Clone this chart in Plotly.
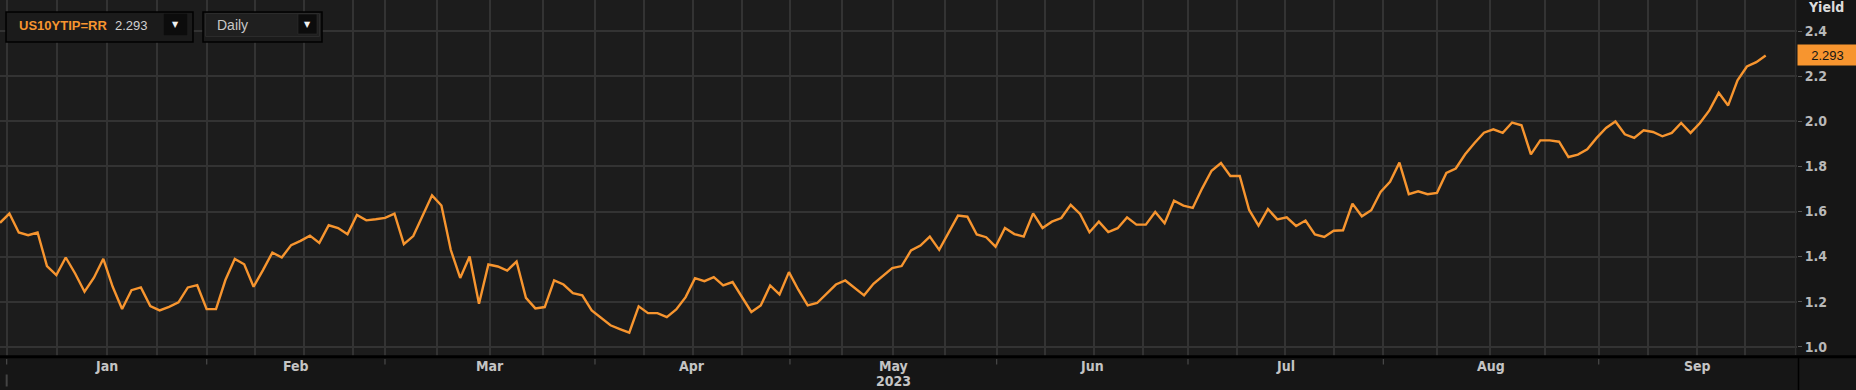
import plotly.graph_objects as go

# ---- data ----
ric = "US10YTIP=RR"
last_value = 2.293
yields = [
    1.550, 1.591, 1.507, 1.495, 1.507, 1.358, 1.318, 1.396, 1.325, 1.244,
    1.306, 1.390, 1.266, 1.167, 1.251, 1.263, 1.180, 1.161, 1.177, 1.197,
    1.263, 1.273, 1.167, 1.167, 1.296, 1.390, 1.366, 1.266, 1.340, 1.418,
    1.396, 1.451, 1.470, 1.493, 1.461, 1.539, 1.527, 1.499, 1.585, 1.561,
    1.566, 1.572, 1.591, 1.455, 1.491, 1.584, 1.672, 1.627, 1.429, 1.305,
    1.400, 1.191, 1.365, 1.356, 1.338, 1.378, 1.217, 1.170, 1.176, 1.294,
    1.276, 1.238, 1.228, 1.161, 1.129, 1.095, 1.078, 1.062, 1.179, 1.149,
    1.149, 1.131, 1.165, 1.220, 1.304, 1.291, 1.309, 1.272, 1.287, 1.220,
    1.154, 1.183, 1.272, 1.232, 1.331, 1.253, 1.183, 1.194, 1.235, 1.276,
    1.294, 1.262, 1.228, 1.279, 1.316, 1.349, 1.358, 1.427, 1.449, 1.489,
    1.430, 1.505, 1.582, 1.577, 1.498, 1.486, 1.444, 1.527, 1.500, 1.489,
    1.592, 1.527, 1.555, 1.571, 1.630, 1.589, 1.508, 1.555, 1.509, 1.526,
    1.574, 1.542, 1.542, 1.598, 1.548, 1.648, 1.626, 1.616, 1.703, 1.781,
    1.815, 1.758, 1.758, 1.607, 1.537, 1.611, 1.565, 1.574, 1.536, 1.560,
    1.498, 1.487, 1.515, 1.517, 1.635, 1.579, 1.606, 1.687, 1.732, 1.817,
    1.677, 1.690, 1.677, 1.683, 1.771, 1.791, 1.854, 1.904, 1.950, 1.965,
    1.949, 1.995, 1.983, 1.854, 1.916, 1.916, 1.910, 1.842, 1.853, 1.876,
    1.927, 1.971, 2.000, 1.943, 1.927, 1.961, 1.953, 1.934, 1.949, 1.993,
    1.949, 1.993, 2.049, 2.127, 2.071, 2.182, 2.244, 2.263, 2.293,
]
months = ["Jan", "Feb", "Mar", "Apr", "May", "Jun", "Jul", "Aug", "Sep"]
year_label = "2023"
y_ticks = [1.0, 1.2, 1.4, 1.6, 1.8, 2.0, 2.2, 2.4]

# ---- axis geometry (in point-index units) ----
month_bounds = [0.71, 22.01, 40.99, 63.35, 84.11, 106.12, 126.49, 147.29, 170.22, 191.3]
grid_x = [0.71, 6.04, 11.36, 16.68, 22.01, 27.15, 32.37, 37.55, 40.99, 46.56,
          52.17, 57.78, 63.35, 68.57, 73.82, 79.00, 84.11, 89.65, 95.08, 100.62,
          106.12, 111.27, 116.48, 121.73, 126.49, 131.71, 136.82, 142.04, 147.29,
          152.97, 158.65, 164.53, 170.22, 175.47, 180.72, 185.80]

W, H = 1856, 390
ML, MR, MT, MB = 0, 59, 0, 34
PW, PH = W - ML - MR, H - MT - MB
XMAX = PW / 9.392
YMIN, YMAX = 0.9587, 2.539

ORANGE = "#f7952f"
NARROW = "Liberation Sans Narrow, Arial Narrow, DejaVu Sans Condensed, sans-serif"
GRID = "#333333"
x = list(range(len(yields)))

fig = go.Figure()
fig.add_trace(go.Scatter(x=x, y=yields, mode="lines",
                         line=dict(color=ORANGE, width=2.4), hoverinfo="skip",
                         showlegend=False))

def px(xp):
    return (xp - ML) / PW

def py(yp):
    return 1 - (yp - MT) / PH

shapes = []
# black separator between plot and date band
shapes.append(dict(type="line", xref="paper", yref="paper", x0=0, x1=W / PW,
                   y0=py(356.7), y1=py(356.7), line=dict(color="#000000", width=3), layer="above"))
# vertical divider right axis
shapes.append(dict(type="line", xref="paper", yref="paper", x0=px(1798.5), x1=px(1798.5),
                   y0=py(357), y1=py(390), line=dict(color="#000000", width=1.5)))
shapes.append(dict(type="line", xref="paper", yref="paper", x0=px(1795.5), x1=px(1795.5),
                   y0=py(355), y1=1, line=dict(color="#2e2e2e", width=1.2), layer="above"))
# month boundary ticks in the date band
for b in month_bounds[:-1]:
    shapes.append(dict(type="line", xref="x", yref="paper", x0=b, x1=b,
                       y0=py(359), y1=py(364.5), line=dict(color="#4a4a4a", width=1.2)))
# year tick
shapes.append(dict(type="line", xref="x", yref="paper", x0=month_bounds[0], x1=month_bounds[0],
                   y0=py(374.5), y1=py(386.5), line=dict(color="#444444", width=2)))

# top-left widgets
def rect(x0, y0, x1, y1, fill, line, lw=1.0):
    shapes.append(dict(type="rect", xref="paper", yref="paper",
                       x0=px(x0), x1=px(x1), y0=py(y1), y1=py(y0),
                       fillcolor=fill, line=dict(color=line, width=lw), layer="above"))

rect(6, 12, 193, 42, "#1b1b1b", "#000000", 1.5)
rect(164, 14, 187, 35, "#0c0c0c", "#0c0c0c", 0.5)
rect(203, 12, 322, 42, "#1b1b1b", "#000000", 1.5)
rect(205.5, 13.5, 319.5, 36.5, "#1f1f1f", "#2b2b2b", 1)
rect(298, 14, 317, 34, "#0c0c0c", "#333333", 0.5)
fig.update_layout(shapes=shapes)

annotations = []
label_font = dict(family=NARROW, size=14, color="#c4c4c4", weight="bold")
for i, m in enumerate(months):
    mid = (month_bounds[i] + month_bounds[i + 1]) / 2
    annotations.append(dict(x=mid, y=py(366), xref="x", yref="paper", text=m,
                            showarrow=False, font=label_font, xanchor="center", yanchor="middle"))
annotations.append(dict(x=(month_bounds[4] + month_bounds[5]) / 2, y=py(381), xref="x", yref="paper",
                        text=year_label, showarrow=False, font=label_font,
                        xanchor="center", yanchor="middle"))
annotations.append(dict(x=px(1806), y=py(7), xref="paper", yref="paper", text="Yield",
                        showarrow=False, xanchor="left", yanchor="middle",
                        font=dict(family=NARROW, size=14, color="#dcdcdc", weight="bold")))
# last-price tag
annotations.append(dict(x=1, xref="paper", y=last_value, yref="y", text=f"{last_value:.3f}",
                        showarrow=False, xanchor="left", yanchor="middle", xshift=0,
                        bgcolor=ORANGE, width=57, height=18, borderpad=1, align="center",
                        font=dict(family="Liberation Sans, Arial, sans-serif", size=13, color="#151515")))
# widget texts
annotations.append(dict(x=px(17), y=py(26), xref="paper", yref="paper",
                        text=f"<b>{ric}</b>", showarrow=False, xanchor="left", yanchor="middle",
                        font=dict(family="Liberation Sans, Arial, sans-serif", size=13, color=ORANGE)))
annotations.append(dict(x=px(113), y=py(26), xref="paper", yref="paper",
                        text=f"{last_value:.3f}", showarrow=False, xanchor="left", yanchor="middle",
                        font=dict(family="Liberation Sans, Arial, sans-serif", size=13, color="#d0d0d0")))
annotations.append(dict(x=px(215), y=py(25), xref="paper", yref="paper",
                        text="Daily", showarrow=False, xanchor="left", yanchor="middle",
                        font=dict(family="Liberation Sans, Arial, sans-serif", size=14, color="#c8c8c8")))
for cx in (175.5, 307.5):
    annotations.append(dict(x=px(cx), y=py(24.5), xref="paper", yref="paper",
                            text="▼", showarrow=False, xanchor="center", yanchor="middle",
                            font=dict(family="DejaVu Sans, sans-serif", size=8, color="#f0f0f0")))
fig.update_layout(annotations=annotations)

fig.update_layout(
    width=W, height=H,
    margin=dict(l=ML, r=MR, t=MT, b=MB, pad=0),
    paper_bgcolor="#161616",
    plot_bgcolor="#1c1c1c",
    showlegend=False,
    xaxis=dict(range=[0, XMAX], tickmode="array", tickvals=grid_x, showticklabels=False,
               ticks="", showgrid=True, gridcolor=GRID, gridwidth=1.5,
               zeroline=False, showline=False, fixedrange=True),
    yaxis=dict(range=[YMIN, YMAX], side="right", tickmode="array", tickvals=y_ticks,
               tickformat=".1f", showgrid=True, gridcolor=GRID, gridwidth=1.5,
               ticks="outside", ticklen=4, tickcolor="#555555", tickwidth=1,
               tickfont=dict(family=NARROW, size=14, color="#b8b8b8", weight="bold"),
               zeroline=False, showline=False, fixedrange=True),
)

fig.write_html("out.html", config={"displayModeBar": False})
